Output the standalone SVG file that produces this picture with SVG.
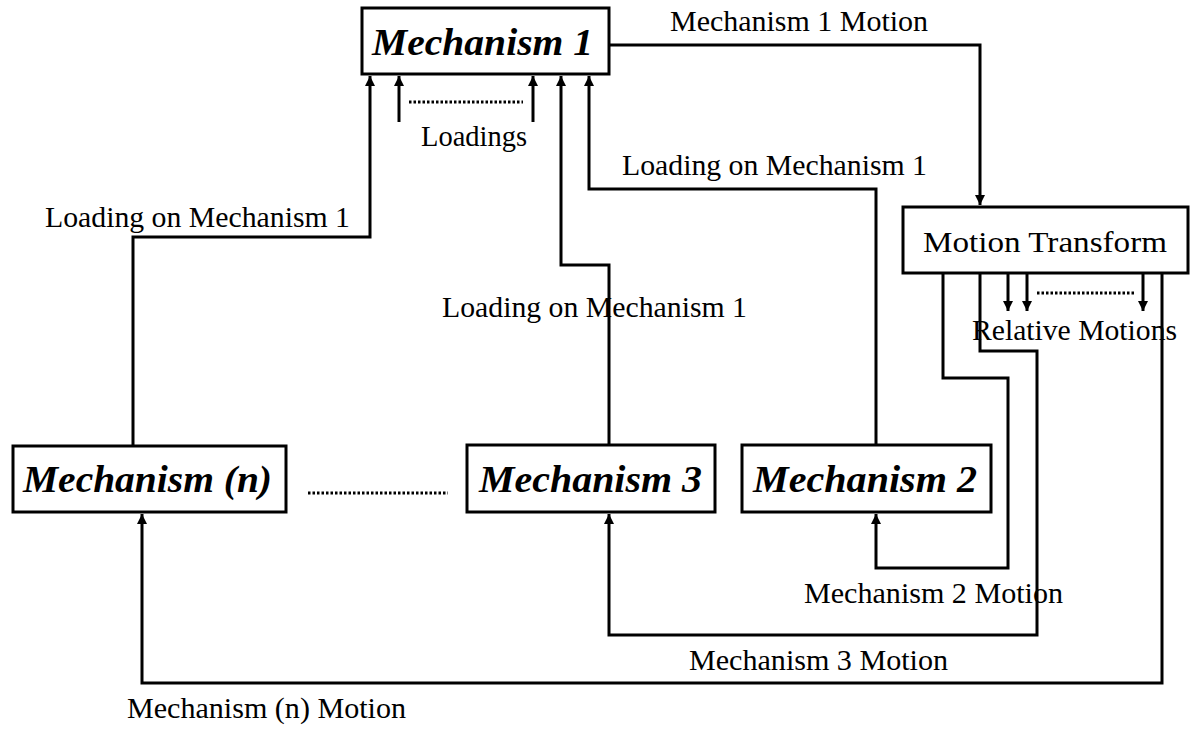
<svg xmlns="http://www.w3.org/2000/svg" width="1191" height="729" viewBox="0 0 1191 729">
<style>
.box{fill:#fff;stroke:#000;stroke-width:3}
.title{font-family:'Liberation Serif','Times New Roman',Times,Tinos,serif;font-style:italic;font-weight:bold;font-size:37px;fill:#000}
.lbl{font-family:'Liberation Serif','Times New Roman',Times,Tinos,serif;font-size:30px;fill:#000}
.wire{fill:none;stroke:#000;stroke-width:3;stroke-linejoin:miter}
.dot{fill:none;stroke:#000;stroke-width:3;stroke-dasharray:2.5 2}
</style>
<defs>
<marker id="arr" markerUnits="userSpaceOnUse" markerWidth="10" markerHeight="12" viewBox="0 0 10 12" refX="10" refY="5" orient="auto">
<path d="M0,0 L10,5 L0,10 Z" fill="#000"/>
</marker>
</defs>
<g id="connectors">
<path class="wire" d="M609,45 H980 V205" marker-end="url(#arr)"/>
<path class="wire" d="M133,446 V237 H370 V76" marker-end="url(#arr)"/>
<path class="wire" d="M609,445 V265 H561 V76" marker-end="url(#arr)"/>
<path class="wire" d="M876,445 V189 H589 V76" marker-end="url(#arr)"/>
<path class="wire" d="M399,122 V76" marker-end="url(#arr)"/>
<path class="wire" d="M533,122 V76" marker-end="url(#arr)"/>
<path class="dot" d="M409,102 H523"/>
<path class="wire" d="M1008,273 V311" marker-end="url(#arr)"/>
<path class="wire" d="M1027,273 V311" marker-end="url(#arr)"/>
<path class="wire" d="M1143,273 V311" marker-end="url(#arr)"/>
<path class="dot" d="M1037,293 H1134"/>
<path class="wire" d="M943,273 V378 H1008 V568 H876 V514" marker-end="url(#arr)"/>
<path class="wire" d="M980,273 V351 H1037 V635 H609 V514" marker-end="url(#arr)"/>
<path class="wire" d="M1162,273 V683 H142 V514" marker-end="url(#arr)"/>
<path class="dot" d="M308,493 H448"/>
</g>
<g id="mech1">
<rect class="box" x="362" y="8" width="247" height="66"/>
<text class="title" x="372" y="55" textLength="221" lengthAdjust="spacingAndGlyphs">Mechanism 1</text>
</g>
<g id="motion-transform">
<rect class="box" x="903" y="207" width="285" height="66"/>
<text class="lbl" x="923" y="252" font-size="32" textLength="244" lengthAdjust="spacingAndGlyphs">Motion Transform</text>
</g>
<g id="mechn">
<rect class="box" x="13" y="446" width="273" height="66"/>
<text class="title" x="23" y="492" textLength="249" lengthAdjust="spacingAndGlyphs">Mechanism (n)</text>
</g>
<g id="mech3">
<rect class="box" x="467" y="445" width="248" height="67"/>
<text class="title" x="479" y="492" textLength="223" lengthAdjust="spacingAndGlyphs">Mechanism 3</text>
</g>
<g id="mech2">
<rect class="box" x="742" y="445" width="249" height="67"/>
<text class="title" x="753" y="492" textLength="224" lengthAdjust="spacingAndGlyphs">Mechanism 2</text>
</g>
<g id="labels">
<text class="lbl" x="670" y="31" textLength="258" lengthAdjust="spacingAndGlyphs">Mechanism 1 Motion</text>
<text class="lbl" x="421" y="146" textLength="106" lengthAdjust="spacingAndGlyphs">Loadings</text>
<text class="lbl" x="622" y="175" textLength="305" lengthAdjust="spacingAndGlyphs">Loading on Mechanism 1</text>
<text class="lbl" x="45" y="227" textLength="305" lengthAdjust="spacingAndGlyphs">Loading on Mechanism 1</text>
<text class="lbl" x="442" y="317" textLength="305" lengthAdjust="spacingAndGlyphs">Loading on Mechanism 1</text>
<text class="lbl" x="972" y="340" textLength="205" lengthAdjust="spacingAndGlyphs">Relative Motions</text>
<text class="lbl" x="804" y="603" textLength="259" lengthAdjust="spacingAndGlyphs">Mechanism 2 Motion</text>
<text class="lbl" x="689" y="670" textLength="259" lengthAdjust="spacingAndGlyphs">Mechanism 3 Motion</text>
<text class="lbl" x="127" y="718" textLength="279" lengthAdjust="spacingAndGlyphs">Mechanism (n) Motion</text>
</g>
</svg>
